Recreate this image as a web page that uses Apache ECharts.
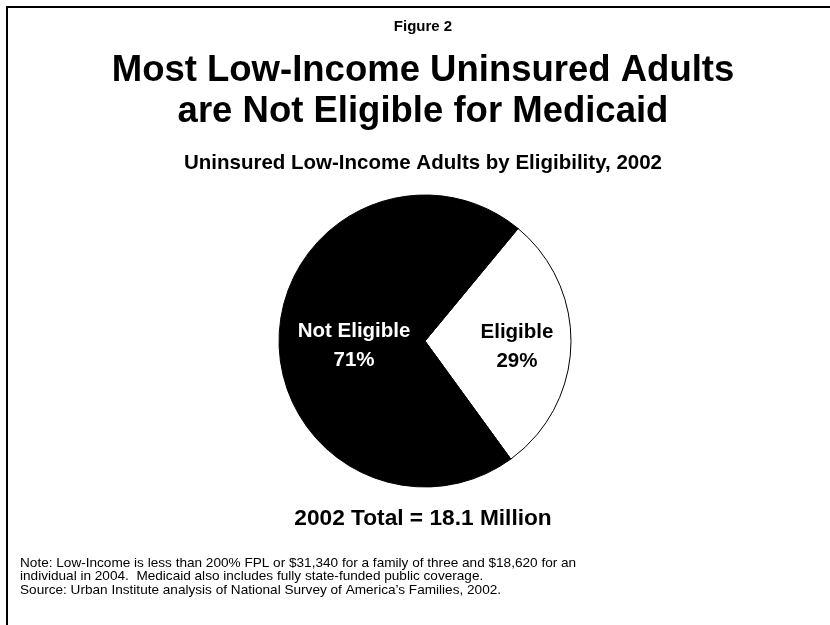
<!DOCTYPE html>
<html>
<head>
<meta charset="utf-8">
<title>Most Low-Income Uninsured Adults are Not Eligible for Medicaid</title>
<script src="https://cdn.jsdelivr.net/npm/echarts@6/dist/echarts.min.js"></script>
<style>
  html, body { margin: 0; padding: 0; background: #ffffff; }
  #chart { width: 830px; height: 625px; }
</style>
</head>
<body>
<div id="chart"></div>
<script>
// Uninsured low-income adults by Medicaid eligibility, 2002 (percent)
const categories = ['Eligible', 'Not Eligible'];
const shares = [29, 71];
const labelColors = ['#000000', '#ffffff'];
const sliceColors = ['#ffffff', '#000000'];

const figureLabel = 'Figure 2';
const headlineLines = ['Most Low-Income Uninsured Adults', 'are Not Eligible for Medicaid'];
const subhead = 'Uninsured Low-Income Adults by Eligibility, 2002';
const totalText = '2002 Total = 18.1 Million';
const noteLines = [
  'Note: Low-Income is less than 200% FPL or $31,340 for a family of three and $18,620 for an',
  'individual in 2004.  Medicaid also includes fully state-funded public coverage.',
  'Source: Urban Institute analysis of National Survey of America\u2019s Families, 2002.'
];

const FONT = '"Liberation Sans", Arial, Helvetica, sans-serif';
const MID_X = 423;

const chart = echarts.init(document.getElementById('chart'), null, { renderer: 'canvas' });

function centeredText(text, y, size, weight) {
  return {
    type: 'text', x: MID_X, y: y, silent: true,
    style: {
      text: text, fill: '#000', align: 'center', verticalAlign: 'middle',
      font: weight + ' ' + size + 'px ' + FONT
    }
  };
}

const pieData = categories.map((name, i) => ({
  name: name,
  value: shares[i],
  itemStyle: { color: sliceColors[i] },
  label: { color: labelColors[i] }
}));

// per-slice nudges for the inside labels
const labelShift = [[16, 3], [5, 7]];

const graphics = [
  {
    type: 'polyline', silent: true,
    shape: { points: [[7, 625], [7, 7], [830, 7]] },
    style: { stroke: '#000', lineWidth: 2, fill: null }
  },
  centeredText(figureLabel, 27, 15, 'bold'),
  centeredText(headlineLines[0], 71, 36.5, 'bold'),
  centeredText(headlineLines[1], 112, 36.5, 'bold'),
  centeredText(subhead, 163, 20.5, 'bold'),
  centeredText(totalText, 519, 22.7, 'bold')
];
noteLines.forEach((line, i) => {
  graphics.push({
    type: 'text', x: 20, y: 563 + i * 13.6, silent: true,
    style: {
      text: line, fill: '#000', align: 'left', verticalAlign: 'middle',
      font: 'normal 13.6px ' + FONT
    }
  });
});

chart.setOption({
  animation: false,
  backgroundColor: '#ffffff',
  graphic: graphics,
  series: [
    {
      type: 'pie',
      center: [425, 341],
      radius: [0, 146],
      startAngle: 50.4,
      clockwise: true,
      avoidLabelOverlap: false,
      silent: true,
      data: pieData,
      itemStyle: { borderColor: '#000', borderWidth: 1 },
      label: {
        show: true,
        position: 'inside',
        formatter: '{b}\n{c}%',
        fontFamily: FONT,
        fontSize: 20.5,
        fontWeight: 'bold',
        lineHeight: 29
      },
      labelLine: { show: false },
      labelLayout: function (params) {
        const s = labelShift[params.dataIndex];
        return { dx: s[0], dy: s[1] };
      },
      emphasis: { disabled: true }
    }
  ]
});
</script>
</body>
</html>
